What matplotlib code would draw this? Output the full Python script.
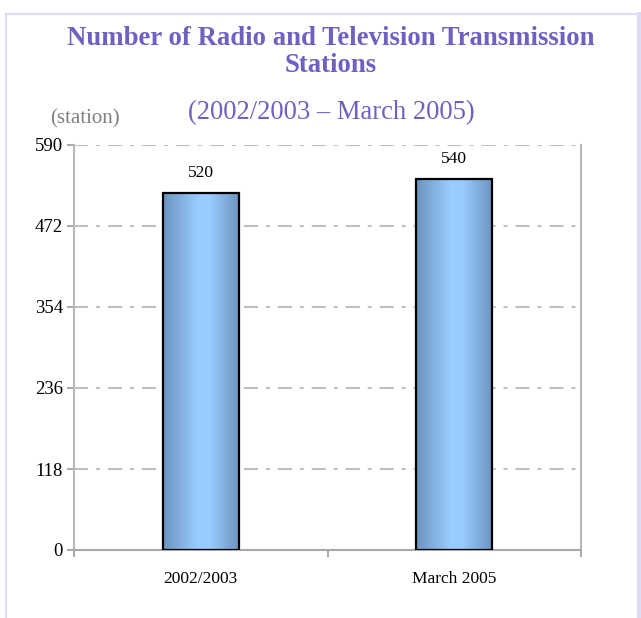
import numpy as np
import matplotlib
matplotlib.use("Agg")
import matplotlib.pyplot as plt
from matplotlib.colors import LinearSegmentedColormap
from matplotlib.lines import Line2D

# data
categories = ["2002/2003", "March 2005"]
stations = [520, 540]
y_ticks = [0, 118, 236, 354, 472, 590]

purple = "#7060c0"
frame_col = "#dcdcf4"
grid_col = "#c0c0c0"

plt.rcParams["font.family"] = ["Liberation Serif", "DejaVu Serif"]

W, H = 641, 618
fig = plt.figure(figsize=(6.41, 6.18), dpi=100)
ax = fig.add_axes([74 / W, 1 - 550 / H, (581 - 74) / W, (550 - 145) / H])

# outer lavender frame (left, top, right)
fig.add_artist(Line2D([6 / W, 6 / W], [0, 1 - 14 / H], transform=fig.transFigure, color=frame_col, lw=1.6))
fig.add_artist(Line2D([6 / W, 639 / W], [1 - 14 / H, 1 - 14 / H], transform=fig.transFigure, color=frame_col, lw=1.6))
fig.add_artist(Line2D([639 / W, 639 / W], [0, 1 - 14 / H], transform=fig.transFigure, color=frame_col, lw=3.0))

# titles
fig.text(331 / W, 1 - 52 / H, "Number of Radio and Television Transmission\nStations",
         ha="center", va="center", fontsize=19.3, fontweight="bold", color=purple, linespacing=1.15)
fig.text(331 / W, 1 - 113 / H, "(2002/2003 \u2013 March 2005)", ha="center", va="center",
         fontsize=19.2, color=purple)
fig.text(85 / W, 1 - 119 / H, "(station)", ha="center", va="center", fontsize=15, color="#808080")

# bars with cylinder-like gradient
cmap = LinearSegmentedColormap.from_list(
    "cyl", [(0, "#6c93be"), (0.45, "#99ccff"), (0.6, "#99ccff"), (1, "#6c93be")])
grad = np.linspace(0, 1, 256).reshape(1, -1)
x = np.arange(len(categories))
width = 0.30
bars = ax.bar(x, stations, width, facecolor="none", edgecolor="black", linewidth=1.6, zorder=3)
for b in bars:
    x0, w, h = b.get_x(), b.get_width(), b.get_height()
    ax.imshow(grad, extent=[x0, x0 + w, 0, h], aspect="auto", cmap=cmap, zorder=2)
for xi, v in zip(x, stations):
    ax.annotate(str(v), (xi, v), xytext=(0, 9), textcoords="offset points",
                ha="center", va="bottom", fontsize=12.5)

ax.set_xlim(-0.5, 1.5)
ax.set_ylim(0, 590)
ax.set_yticks(y_ticks)
ax.set_xticks(x)
ax.set_xticklabels(categories)
ax.set_xticks([-0.5, 0.5, 1.5], minor=True)
ax.tick_params(axis="x", which="major", length=0, pad=15, labelsize=12.5)
ax.tick_params(axis="x", which="minor", length=5, color="#a0a0a0", width=1.3)
ax.tick_params(axis="y", length=5, color="#a0a0a0", width=1.3, labelsize=13.5, pad=3)

ax.yaxis.grid(True, color=grid_col, linewidth=1.5, linestyle=(0, (6.8, 3.8, 1.9, 3.8)), zorder=1)
ax.set_axisbelow(True)
ax.spines["top"].set_visible(False)
for s in ["left", "right", "bottom"]:
    ax.spines[s].set_color("#b8b8b8")
    ax.spines[s].set_linewidth(1.5)
ax.spines["bottom"].set_color("#a8a8a8")

fig.savefig("out.png", dpi=100)
